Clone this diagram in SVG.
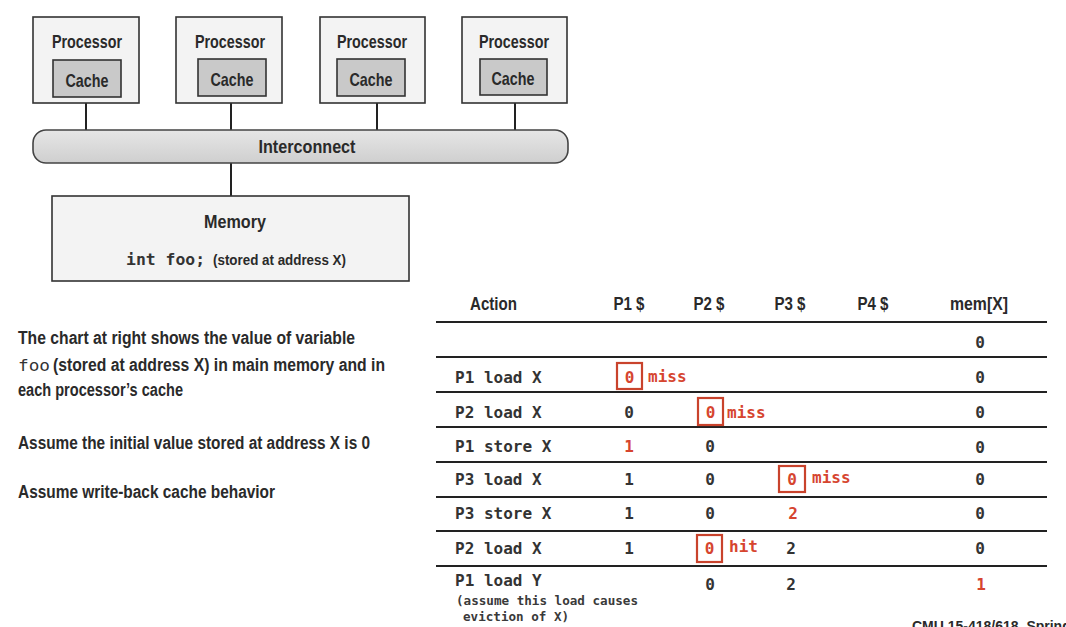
<svg xmlns="http://www.w3.org/2000/svg" width="1066" height="627" viewBox="0 0 1066 627">
<style>
.box{fill:#f3f3f3;stroke:#333;stroke-width:1.6}
.cache{fill:#c9c9c9;stroke:#333;stroke-width:1.6}
.lbl{font-family:"Liberation Sans Narrow","Liberation Sans",sans-serif;font-weight:bold;fill:#2a2a2a}
.mono{font-family:"DejaVu Sans Mono","Liberation Mono",monospace;font-weight:bold;fill:#333;font-size:16px}
.note{font-family:"DejaVu Sans Mono","Liberation Mono",monospace;font-weight:bold;fill:#3a3a3a;font-size:12.6px}
.red{fill:#d6452f}
.rbox{fill:none;stroke:#c9432c;stroke-width:2.2}
.wire{stroke:#222;stroke-width:2;fill:none}
.rule{stroke:#222;stroke-width:2}
</style>
<defs>
<linearGradient id="ig" x1="0" y1="0" x2="0" y2="1">
<stop offset="0" stop-color="#e6e6e6"/>
<stop offset="1" stop-color="#cfcfcf"/>
</linearGradient>
</defs>
<rect width="1066" height="627" fill="#ffffff"/>

<g id="connectors">
<line class="wire" x1="86" y1="103" x2="86" y2="131"/>
<line class="wire" x1="231" y1="103" x2="231" y2="131"/>
<line class="wire" x1="377" y1="103" x2="377" y2="131"/>
<line class="wire" x1="515" y1="103" x2="515" y2="131"/>
<line class="wire" x1="231" y1="162" x2="231" y2="196"/>
</g>

<g id="proc1">
<rect class="box" x="33" y="17" width="106" height="86"/>
<text class="lbl" x="87" y="48" font-size="19" text-anchor="middle" textLength="70" lengthAdjust="spacingAndGlyphs">Processor</text>
<rect class="cache" x="53" y="60" width="68" height="37"/>
<text class="lbl" x="87" y="87" font-size="19" text-anchor="middle" textLength="43" lengthAdjust="spacingAndGlyphs">Cache</text>
</g>
<g id="proc2">
<rect class="box" x="176" y="17" width="106" height="86"/>
<text class="lbl" x="230" y="48" font-size="19" text-anchor="middle" textLength="70" lengthAdjust="spacingAndGlyphs">Processor</text>
<rect class="cache" x="198" y="59" width="68" height="37"/>
<text class="lbl" x="232" y="86" font-size="19" text-anchor="middle" textLength="43" lengthAdjust="spacingAndGlyphs">Cache</text>
</g>
<g id="proc3">
<rect class="box" x="320" y="17" width="105" height="86"/>
<text class="lbl" x="372" y="48" font-size="19" text-anchor="middle" textLength="70" lengthAdjust="spacingAndGlyphs">Processor</text>
<rect class="cache" x="337" y="59" width="68" height="37"/>
<text class="lbl" x="371" y="86" font-size="19" text-anchor="middle" textLength="43" lengthAdjust="spacingAndGlyphs">Cache</text>
</g>
<g id="proc4">
<rect class="box" x="462" y="17" width="105" height="86"/>
<text class="lbl" x="514" y="48" font-size="19" text-anchor="middle" textLength="70" lengthAdjust="spacingAndGlyphs">Processor</text>
<rect class="cache" x="480" y="59" width="67" height="36"/>
<text class="lbl" x="513" y="85" font-size="19" text-anchor="middle" textLength="43" lengthAdjust="spacingAndGlyphs">Cache</text>
</g>

<g id="interconnect">
<rect x="33" y="130" width="535" height="33" rx="13" ry="13" fill="url(#ig)" stroke="#444" stroke-width="1.6"/>
<text class="lbl" x="307" y="153" font-size="19" text-anchor="middle" textLength="97" lengthAdjust="spacingAndGlyphs">Interconnect</text>
</g>

<g id="memory">
<rect class="box" x="52" y="196" width="357" height="85"/>
<text class="lbl" x="235" y="228" font-size="19" text-anchor="middle" textLength="62" lengthAdjust="spacingAndGlyphs">Memory</text>
<text class="mono" x="126" y="265" textLength="79" lengthAdjust="spacingAndGlyphs">int foo;</text>
<text class="lbl" x="213" y="265" font-size="15" textLength="133" lengthAdjust="spacingAndGlyphs">(stored at address X)</text>
</g>

<g id="description">
<text class="lbl" x="18" y="344" font-size="18" textLength="337" lengthAdjust="spacingAndGlyphs">The chart at right shows the value of variable</text>
<text x="18" y="371" font-family="DejaVu Sans Mono,monospace" font-size="16" fill="#333" textLength="32" lengthAdjust="spacingAndGlyphs">foo</text>
<text class="lbl" x="53" y="371" font-size="18" textLength="332" lengthAdjust="spacingAndGlyphs">(stored at address X) in main memory and in</text>
<text class="lbl" x="18" y="396" font-size="18" textLength="165" lengthAdjust="spacingAndGlyphs">each processor’s cache</text>
<text class="lbl" x="18" y="449" font-size="18" textLength="352" lengthAdjust="spacingAndGlyphs">Assume the initial value stored at address X is 0</text>
<text class="lbl" x="18" y="498" font-size="18" textLength="257" lengthAdjust="spacingAndGlyphs">Assume write-back cache behavior</text>
</g>

<g id="table">
<text class="lbl" x="470" y="310" font-size="18.5" textLength="47" lengthAdjust="spacingAndGlyphs">Action</text>
<text class="lbl" x="629" y="310" font-size="18.5" text-anchor="middle" textLength="31" lengthAdjust="spacingAndGlyphs">P1 $</text>
<text class="lbl" x="709" y="310" font-size="18.5" text-anchor="middle" textLength="31" lengthAdjust="spacingAndGlyphs">P2 $</text>
<text class="lbl" x="790" y="310" font-size="18.5" text-anchor="middle" textLength="31" lengthAdjust="spacingAndGlyphs">P3 $</text>
<text class="lbl" x="873" y="310" font-size="18.5" text-anchor="middle" textLength="31" lengthAdjust="spacingAndGlyphs">P4 $</text>
<text class="lbl" x="979" y="310" font-size="18.5" text-anchor="middle" textLength="58" lengthAdjust="spacingAndGlyphs">mem[X]</text>

<line class="rule" x1="436" y1="322" x2="1047" y2="322"/>
<line class="rule" x1="436" y1="357" x2="1047" y2="357"/>
<line class="rule" x1="436" y1="392" x2="1047" y2="392"/>
<line class="rule" x1="436" y1="427" x2="1047" y2="427"/>
<line class="rule" x1="436" y1="462" x2="1047" y2="462"/>
<line class="rule" x1="436" y1="497" x2="1047" y2="497"/>
<line class="rule" x1="436" y1="531" x2="1047" y2="531"/>
<line class="rule" x1="436" y1="566" x2="1047" y2="566"/>

<text class="mono" x="980" y="348" text-anchor="middle">0</text>

<text class="mono" x="455" y="383">P1 load X</text>
<rect class="rbox" x="617" y="363" width="25" height="26"/>
<text class="mono red" x="629.5" y="383" text-anchor="middle">0</text>
<text class="mono red" x="648" y="382">miss</text>
<text class="mono" x="980" y="383" text-anchor="middle">0</text>

<text class="mono" x="455" y="418">P2 load X</text>
<text class="mono" x="629" y="418" text-anchor="middle">0</text>
<rect class="rbox" x="698" y="398" width="25" height="27"/>
<text class="mono red" x="710.5" y="418" text-anchor="middle">0</text>
<text class="mono red" x="727" y="418">miss</text>
<text class="mono" x="980" y="418" text-anchor="middle">0</text>

<text class="mono" x="455" y="452">P1 store X</text>
<text class="mono red" x="629" y="452" text-anchor="middle">1</text>
<text class="mono" x="710" y="452" text-anchor="middle">0</text>
<text class="mono" x="980" y="453" text-anchor="middle">0</text>

<text class="mono" x="455" y="485">P3 load X</text>
<text class="mono" x="629" y="485" text-anchor="middle">1</text>
<text class="mono" x="710" y="485" text-anchor="middle">0</text>
<rect class="rbox" x="779" y="466" width="26" height="26"/>
<text class="mono red" x="792" y="485" text-anchor="middle">0</text>
<text class="mono red" x="812" y="483">miss</text>
<text class="mono" x="980" y="485" text-anchor="middle">0</text>

<text class="mono" x="455" y="519">P3 store X</text>
<text class="mono" x="629" y="519" text-anchor="middle">1</text>
<text class="mono" x="710" y="519" text-anchor="middle">0</text>
<text class="mono red" x="793" y="519" text-anchor="middle">2</text>
<text class="mono" x="980" y="519" text-anchor="middle">0</text>

<text class="mono" x="455" y="554">P2 load X</text>
<text class="mono" x="629" y="554" text-anchor="middle">1</text>
<rect class="rbox" x="697" y="535" width="25" height="27"/>
<text class="mono red" x="709.5" y="554" text-anchor="middle">0</text>
<text class="mono red" x="729" y="552">hit</text>
<text class="mono" x="791" y="554" text-anchor="middle">2</text>
<text class="mono" x="980" y="554" text-anchor="middle">0</text>

<text class="mono" x="455" y="586">P1 load Y</text>
<text class="mono" x="710" y="590" text-anchor="middle">0</text>
<text class="mono" x="791" y="590" text-anchor="middle">2</text>
<text class="mono red" x="981" y="590" text-anchor="middle">1</text>
<text class="note" x="456" y="605">(assume this load causes</text>
<text class="note" x="463" y="621">eviction of X)</text>
</g>

<text class="lbl" x="912" y="631" font-size="14">CMU 15-418/618, Spring 20</text>
</svg>
